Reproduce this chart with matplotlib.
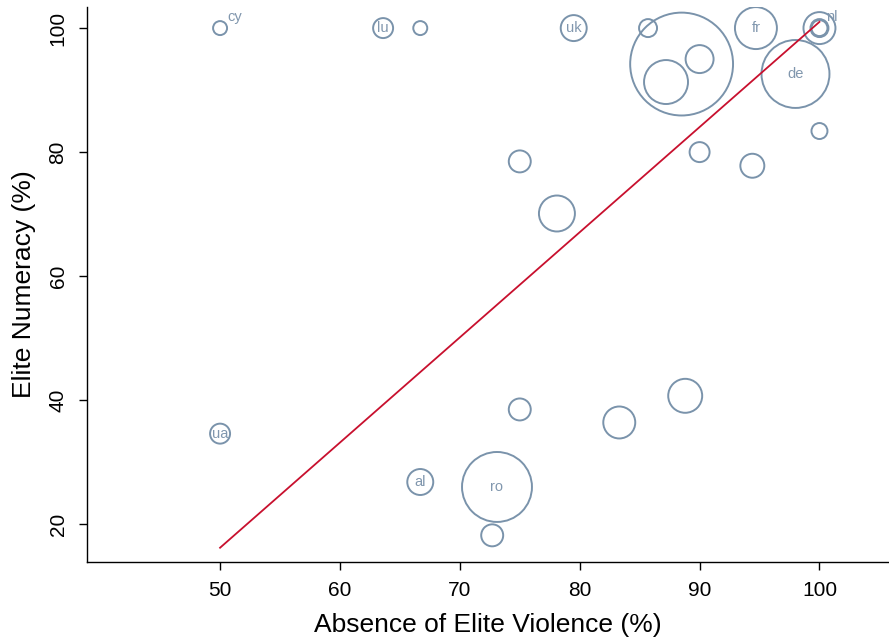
import matplotlib
matplotlib.use("Agg")
import matplotlib.pyplot as plt
import numpy as np

plt.rcParams['font.family'] = ['Liberation Sans', 'DejaVu Sans']

# absence of elite violence (%), elite numeracy (%), weight, label
violence = [50.0, 63.6, 66.7, 79.5, 85.7, 88.5, 87.2, 90.0, 94.7, 100.0,
            100.0, 100.0, 98.0, 100.0, 90.0, 75.0, 94.4, 78.1, 88.8, 75.0,
            83.3, 50.0, 66.7, 73.1, 72.7]
numeracy = [100.0, 100.0, 100.0, 100.0, 100.0, 94.2, 91.3, 95.0, 100.0, 100.0,
            100.0, 100.0, 92.6, 83.4, 80.0, 78.5, 77.8, 70.1, 40.7, 38.5,
            36.4, 34.6, 26.8, 26.0, 18.2]
weight = [49, 100, 49, 169, 81, 2650, 484, 196, 441, 256,
          64, 81, 1156, 64, 100, 121, 144, 324, 289, 121,
          256, 100, 169, 1225, 121]
labels = ['cy', 'lu', '', 'uk', '', '', '', '', 'fr', 'nl',
          '', '', 'de', '', '', '', '', '', '', '',
          '', 'ua', 'al', 'ro', '']
# labels written beside the marker instead of inside it
outside = ['cy', 'nl']

# fitted line
fit_x = [50, 100]
fit_y = [16.2, 101.0]

circle_col = '#7a93ab'
label_col = '#8197ae'

fig = plt.figure(figsize=(8.89, 6.41), dpi=100)
ax = fig.add_axes([87 / 889, 79 / 641, 802 / 889, 555 / 641])

sizes = 2.07 * np.array(weight)
ax.scatter(violence, numeracy, s=sizes, facecolors='none',
           edgecolors=circle_col, linewidths=1.4, zorder=2)
ax.plot(fit_x, fit_y, color='#c8102e', linewidth=1.3, zorder=3)

for x, y, lab in zip(violence, numeracy, labels):
    if not lab:
        continue
    if lab in outside:
        ax.annotate(lab, (x, y), xytext=(5, 3), textcoords='offset points',
                    ha='left', va='bottom', fontsize=10.5, color=label_col)
    else:
        ax.text(x, y, lab, ha='center', va='center', fontsize=10.5,
                color=label_col, zorder=4)

ax.set_xlim(38.9, 105.8)
ax.set_ylim(13.9, 103.4)
ax.set_xticks([50, 60, 70, 80, 90, 100])
ax.set_yticks([20, 40, 60, 80, 100])
for lab in ax.get_yticklabels():
    lab.set_rotation(90)
    lab.set_va('center')
ax.tick_params(labelsize=15, length=6, width=1, pad=8)
for side in ['left', 'bottom']:
    ax.spines[side].set_linewidth(1)
ax.spines['top'].set_visible(False)
ax.spines['right'].set_visible(False)
ax.set_xlabel('Absence of Elite Violence (%)', fontsize=19, labelpad=9)
ax.set_ylabel('Elite Numeracy (%)', fontsize=19, labelpad=9)

fig.savefig('out.png', dpi=100)
